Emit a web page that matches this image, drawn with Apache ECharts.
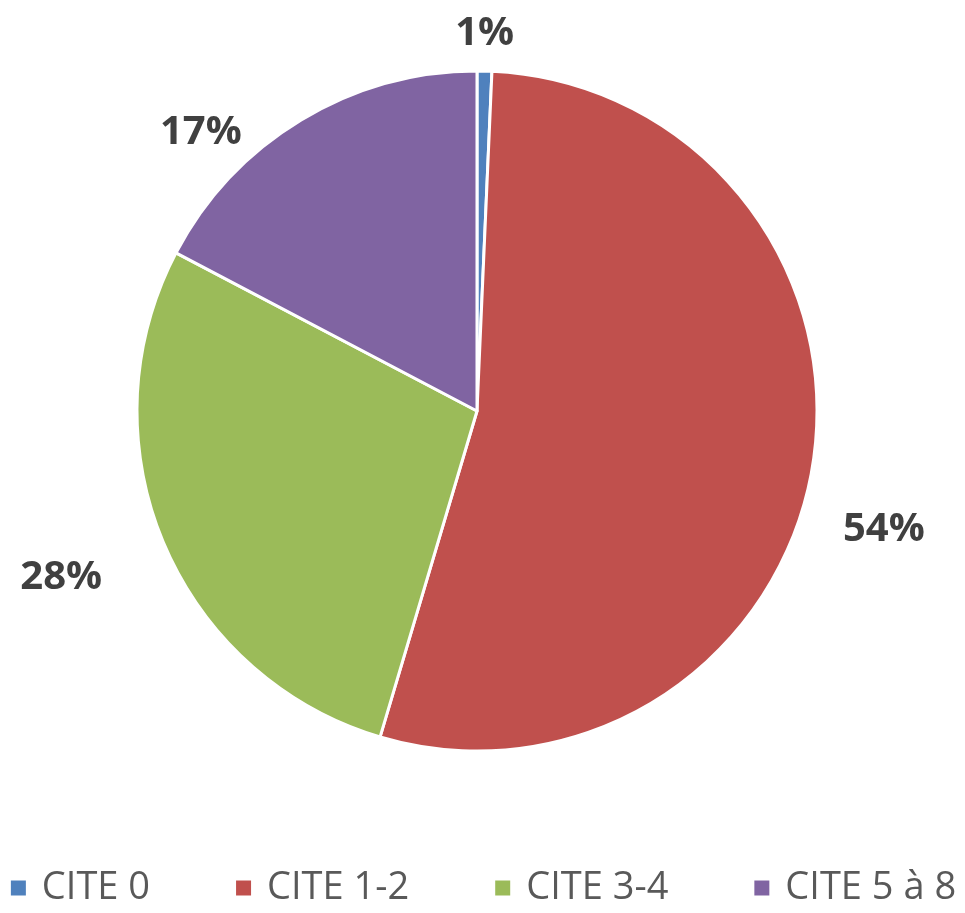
<!DOCTYPE html>
<html>
<head>
<meta charset="utf-8">
<script src="https://cdn.jsdelivr.net/npm/echarts@6/dist/echarts.min.js"></script>
<style>
  html, body { margin: 0; padding: 0; background: #fff; }
  #chart { width: 965px; height: 913px; }
</style>
</head>
<body>
<div id="chart"></div>
<script>
const categories = ["CITE 0", "CITE 1-2", "CITE 3-4", "CITE 5 à 8"];
const values = [0.7, 53.9, 28.1, 17.3];
const colors = ["#4F81BD", "#C0504D", "#9BBB59", "#8064A2"];

const chart = echarts.init(document.getElementById("chart"));

// nudge labels to where Excel's "best fit" put them
const labelNudge = [[-35, -7], [-4, 57], [-29, 23], [-39, 38]];

const option = {
  animation: false,
  color: colors,
  legend: {
    top: 864,
    left: "center",
    itemWidth: 17,
    itemHeight: 17,
    itemGap: 84,
    icon: "rect",
    textStyle: {
      fontFamily: "Open Sans, sans-serif",
      fontSize: 38,
      color: "#595959",
      padding: [0, 0, 0, 10]
    },
    data: categories
  },
  series: [{
    type: "pie",
    center: [477, 411],
    radius: [0, 340],
    startAngle: 90,
    clockwise: true,
    itemStyle: { borderColor: "#fff", borderWidth: 3 },
    label: {
      show: true,
      position: "outside",
      formatter: (p) => Math.round(p.value) + "%",
      fontFamily: "Open Sans, sans-serif",
      fontWeight: "bold",
      fontSize: 40,
      color: "#404040"
    },
    labelLine: { show: false, length: 30, length2: 0 },
    labelLayout: (params) => ({
      dx: labelNudge[params.dataIndex][0],
      dy: labelNudge[params.dataIndex][1]
    }),
    data: categories.map((name, i) => ({ name, value: values[i] }))
  }]
};

chart.setOption(option);
</script>
</body>
</html>
